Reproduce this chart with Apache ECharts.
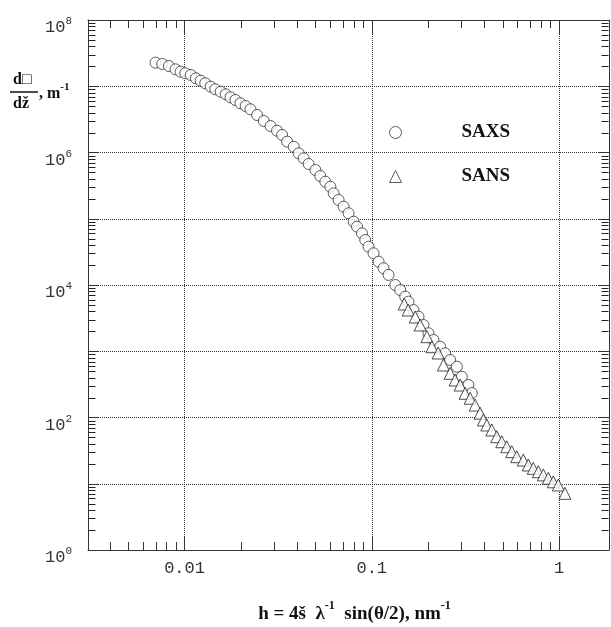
<!DOCTYPE html>
<html>
<head>
<meta charset="utf-8">
<script src="https://cdn.jsdelivr.net/npm/echarts@6/dist/echarts.min.js"></script>
<style>
  html, body { margin: 0; padding: 0; background: #fff; }
  #chart { width: 611px; height: 627px; }
</style>
</head>
<body>
<div id="chart"></div>
<script>
// SAXS (circles): h, nm^-1 and intensity, m^-1
var saxsH = [0.00700, 0.00760, 0.00825, 0.00895, 0.00952, 0.0101, 0.0108, 0.0115, 0.0122, 0.0129,
  0.0138, 0.0146, 0.0156, 0.0166, 0.0176, 0.0187, 0.0199, 0.0212, 0.0225, 0.0244,
  0.0265, 0.0288, 0.0312, 0.0332, 0.0353, 0.0383, 0.0407, 0.0433, 0.0460, 0.0500,
  0.0531, 0.0565, 0.0601, 0.0626, 0.0665, 0.0707, 0.0752, 0.0800, 0.0834, 0.0887,
  0.0923, 0.0961, 0.1022, 0.1087, 0.1156, 0.1229, 0.1335, 0.1419, 0.1509, 0.1571,
  0.1671, 0.1777, 0.1889, 0.2009, 0.2136, 0.2318, 0.2466, 0.2622, 0.2847, 0.3027,
  0.3283, 0.3423];
var saxsI = [2.27e7, 2.17e7, 2.02e7, 1.80e7, 1.66e7, 1.57e7, 1.48e7, 1.32e7, 1.21e7, 1.11e7,
  9.84e6, 9.00e6, 8.27e6, 7.56e6, 6.81e6, 6.20e6, 5.53e6, 5.03e6, 4.49e6, 3.68e6,
  2.99e6, 2.51e6, 2.13e6, 1.84e6, 1.46e6, 1.22e6, 9.72e5, 8.17e5, 6.71e5, 5.44e5,
  4.42e5, 3.62e5, 3.05e5, 2.42e5, 1.92e5, 1.52e5, 1.21e5, 9.03e4, 7.59e4, 6.03e4,
  4.78e4, 3.79e4, 3.01e4, 2.25e4, 1.79e4, 1.42e4, 1.00e4, 8.40e3, 6.66e3, 5.60e3,
  4.19e3, 3.32e3, 2.49e3, 1.87e3, 1.48e3, 1.17e3, 931, 738, 585, 413,
  309, 234];

// SANS (triangles)
var sansH = [0.149, 0.1565, 0.1706, 0.1814, 0.197, 0.2095, 0.2263, 0.2415, 0.2622, 0.2788,
  0.2965, 0.3152, 0.3352, 0.3565, 0.3791, 0.3948, 0.4116, 0.4377, 0.4653, 0.4948,
  0.5261, 0.5594, 0.5949, 0.645, 0.686, 0.729, 0.7755, 0.8245, 0.877, 0.932,
  0.9915, 1.076];
var sansI = [5.17e3, 4.19e3, 3.29e3, 2.49e3, 1.66e3, 1.17e3, 941, 620, 465, 368,
  309, 232, 195, 154, 116, 91.7, 77.1, 64.8, 51.3, 43.1,
  36.2, 30.5, 25.6, 22.8, 19.2, 17.1, 15.2, 13.6, 12.1, 10.7,
  9.58, 7.17];

var xMin = 0.00305, xMax = 1.85;
var yMin = 1, yMax = 1e8;
var xLabels = ['0.01', '0.1', '1'];
var minorSteps = [2, 3, 4, 5, 6, 7, 8, 9];

// minor ticks at 2..9 of every decade
var xMinor = [], yMinor = [];
[-3, -2, -1, 0].forEach(function (e) {
  minorSteps.forEach(function (m) {
    var v = m * Math.pow(10, e);
    if (v > xMin && v < xMax) xMinor.push([v, 10]);
  });
});
[0, 1, 2, 3, 4, 5, 6, 7].forEach(function (e) {
  minorSteps.forEach(function (m) {
    yMinor.push(m * Math.pow(10, e));
  });
});

var serif = '"Liberation Serif", "DejaVu Serif", serif';
var mono = '"Liberation Mono", "DejaVu Sans Mono", monospace';
var axisColor = '#333';
var gridLeft = 88, gridRight = 2;

function zip(a, b) {
  return a.map(function (v, i) { return [v, b[i]]; });
}

function renderXTick(params, api) {
  var rect = params.coordSys;
  var p = api.coord([api.value(0), api.value(1)]);
  var px = Math.round(p[0]) + 0.5;
  var bottom = rect.y + rect.height;
  var style = { stroke: axisColor, lineWidth: 1 };
  return { type: 'group', children: [
    { type: 'line', shape: { x1: px, y1: bottom, x2: px, y2: bottom - 8 }, style: style },
    { type: 'line', shape: { x1: px, y1: rect.y, x2: px, y2: rect.y + 8 }, style: style }
  ] };
}

var chart = echarts.init(document.getElementById('chart'));

chart.setOption({
  animation: false,
  backgroundColor: '#fff',
  grid: {
    left: gridLeft, top: 20, right: gridRight, bottom: 77,
    outerBoundsMode: 'none',
    containLabel: false
  },
  legend: {
    orient: 'vertical',
    left: 384,
    top: 118,
    itemWidth: 12,
    itemHeight: 12,
    itemGap: 25,
    data: [
      { name: 'SAXS', icon: 'circle' },
      { name: 'SANS', icon: 'triangle' }
    ],
    itemStyle: { color: '#fff', borderColor: '#333', borderWidth: 1 },
    textStyle: {
      fontFamily: serif, fontWeight: 'bold', fontSize: 19, color: '#111',
      padding: [0, 0, 0, 55]
    }
  },
  xAxis: [
    {
      type: 'log',
      logBase: 10,
      min: xMin,
      max: xMax,
      position: 'bottom',
      name: '{t|h = 4š  λ}{s|-1}{t|  sin(θ/2), nm}{s|-1}',
      nameLocation: 'middle',
      nameGap: 50,
      nameTextStyle: {
        padding: [0, 0, 0, 12],
        rich: {
          t: { fontFamily: serif, fontWeight: 'bold', fontSize: 19, color: '#111', lineHeight: 24, verticalAlign: 'bottom' },
          s: { fontFamily: serif, fontWeight: 'bold', fontSize: 12, color: '#111', lineHeight: 24, verticalAlign: 'top' }
        }
      },
      axisLine: { onZero: false, lineStyle: { color: axisColor, width: 1 } },
      axisTick: { inside: true, length: 14, lineStyle: { color: axisColor } },
      axisLabel: {
        showMinLabel: false,
        showMaxLabel: false,
        margin: 10,
        fontFamily: mono,
        fontSize: 17,
        color: '#333',
        formatter: function (v) {
          var e = Math.round(Math.log10(v));
          return xLabels[e + 2] || '';
        }
      },
      splitLine: { show: true, lineStyle: { type: 'dotted', color: '#333', width: 1 } }
    },
    {
      type: 'log',
      logBase: 10,
      min: xMin,
      max: xMax,
      position: 'top',
      axisLine: { onZero: false, lineStyle: { color: axisColor, width: 1 } },
      axisTick: { inside: true, length: 14, lineStyle: { color: axisColor } },
      axisLabel: { show: false },
      splitLine: { show: false }
    }
  ],
  yAxis: [
    {
      type: 'log',
      logBase: 10,
      min: yMin,
      max: yMax,
      position: 'left',
      axisLine: { onZero: false, lineStyle: { color: axisColor, width: 1 } },
      axisTick: { inside: true, length: 11, lineStyle: { color: axisColor } },
      axisLabel: {
        margin: 16,
        padding: [12, 0, 0, 0],
        formatter: function (v) {
          var e = Math.round(Math.log10(v));
          if (e % 2 !== 0) return '';
          return '{b|10}{s|' + e + '}';
        },
        rich: {
          b: { fontFamily: mono, fontSize: 17, color: '#333', lineHeight: 20, verticalAlign: 'bottom' },
          s: { fontFamily: mono, fontSize: 11, color: '#333', lineHeight: 20, verticalAlign: 'top' }
        }
      },
      splitLine: { show: true, lineStyle: { type: 'dotted', color: '#333', width: 1 } }
    },
    {
      type: 'log',
      logBase: 10,
      min: yMin,
      max: yMax,
      position: 'right',
      axisLine: { onZero: false, lineStyle: { color: axisColor, width: 1 } },
      axisTick: { inside: true, length: 11, lineStyle: { color: axisColor } },
      axisLabel: { show: false },
      splitLine: { show: false }
    }
  ],
  series: [
    {
      type: 'custom',
      silent: true,
      data: xMinor,
      z: 3,
      renderItem: renderXTick
    },
    {
      name: 'SAXS',
      type: 'scatter',
      symbol: 'circle',
      symbolSize: 11,
      itemStyle: { color: '#fff', borderColor: '#333', borderWidth: 1 },
      data: zip(saxsH, saxsI),
      z: 4
    },
    {
      name: 'SANS',
      type: 'scatter',
      symbol: 'triangle',
      symbolSize: 12,
      itemStyle: { color: '#fff', borderColor: '#222', borderWidth: 1 },
      data: zip(sansH, sansI),
      z: 5
    }
  ]
});

// y minor ticks on both side edges, placed through the chart's own y scale
var leftPx = gridLeft + 0.5;
var rightPx = chart.getWidth() - gridRight - 0.5;
var tickEls = [];
yMinor.forEach(function (v) {
  var py = Math.round(chart.convertToPixel({ yAxisIndex: 0 }, v)) + 0.5;
  tickEls.push({ type: 'line', shape: { x1: leftPx, y1: py, x2: leftPx + 7, y2: py }, style: { stroke: '#222', lineWidth: 1 } });
  tickEls.push({ type: 'line', shape: { x1: rightPx, y1: py, x2: rightPx - 7, y2: py }, style: { stroke: '#222', lineWidth: 1 } });
});

chart.setOption({
  graphic: [
    {
      id: 'ytitleTop', type: 'text', left: 13, top: 72,
      style: { text: 'd□', font: 'bold 16px ' + serif, fill: '#111' }
    },
    {
      id: 'ytitleBar', type: 'line', shape: { x1: 10, y1: 92, x2: 38, y2: 92 },
      style: { stroke: '#111', lineWidth: 1.5 }
    },
    {
      id: 'ytitleBottom', type: 'text', left: 13, top: 96,
      style: { text: 'dž', font: 'bold 16px ' + serif, fill: '#111' }
    },
    {
      id: 'ytitleUnit', type: 'text', left: 39, top: 82,
      style: {
        text: '{a|, m}{s|-1}',
        rich: {
          a: { fontFamily: serif, fontWeight: 'bold', fontSize: 16, fill: '#111', lineHeight: 20, verticalAlign: 'bottom' },
          s: { fontFamily: serif, fontWeight: 'bold', fontSize: 11, fill: '#111', lineHeight: 20, verticalAlign: 'top' }
        }
      }
    },
    { id: 'yMinorTicks', type: 'group', silent: true, z: 100, children: tickEls }
  ]
});

window.addEventListener('resize', function () {
  chart.resize();
});
</script>
</body>
</html>
